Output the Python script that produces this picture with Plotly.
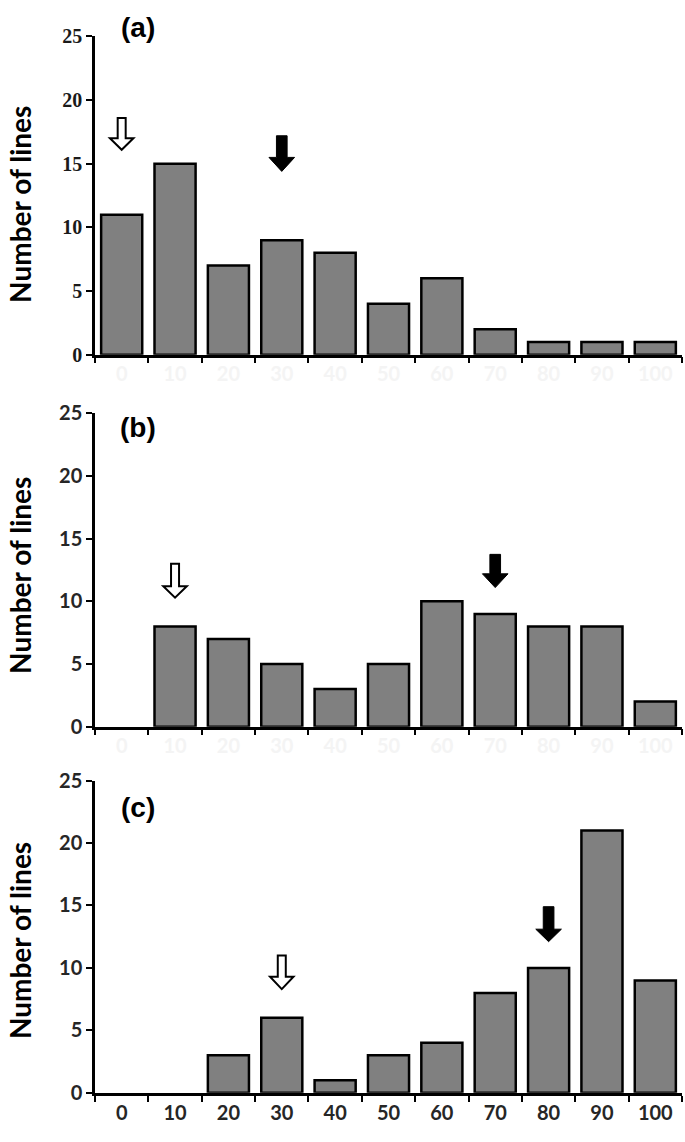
import plotly.graph_objects as go

categories = ["0", "10", "20", "30", "40", "50", "60", "70", "80", "90", "100"]
values_a = [11, 15, 7, 9, 8, 4, 6, 2, 1, 1, 1]
values_b = [0, 8, 7, 5, 3, 5, 10, 9, 8, 8, 2]
values_c = [0, 0, 3, 6, 1, 3, 4, 8, 10, 21, 9]
y_ticks = [0, 5, 10, 15, 20, 25]
panel_labels = ["(a)", "(b)", "(c)"]

# arrows: (category, top, head start, tip) in data units
open_arrows = [("0", 18.6, 17.0, 16.1), ("10", 13.0, 11.2, 10.3), ("30", 11.0, 9.3, 8.3)]
filled_arrows = [("30", 17.2, 15.5, 14.4), ("70", 13.75, 12.2, 11.1), ("80", 14.9, 13.1, 12.1)]

W, H = 685, 1142


def px_x(v):
    return v / W


def px_y(v):
    return 1 - v / H


x_left, x_right = 95, 682
panels_px = [(24, 349), (409, 729), (784, 1103)]  # top, bottom pixels of each plot

fig = go.Figure()
series = [values_a, values_b, values_c]
for i, vals in enumerate(series):
    suffix = "" if i == 0 else str(i + 1)
    fig.add_trace(go.Bar(
        x=categories, y=vals,
        xaxis="x" + suffix, yaxis="y" + suffix,
        marker=dict(color="#808080",
                    line=dict(color="black", width=[2.5 if v > 0 else 0 for v in vals])),
        showlegend=False, hoverinfo="skip",
    ))

layout = dict(
    width=W, height=H,
    margin=dict(l=0, r=0, t=0, b=0),
    paper_bgcolor="white", plot_bgcolor="white",
    bargap=0.23,
    shapes=[], annotations=[],
)

tick_fonts = [
    dict(family="Liberation Serif", size=20, color="#1a1a1a", weight="bold"),
    dict(family="Lato", size=20, color="#262626", weight="bold"),
    dict(family="Lato", size=20, color="#262626", weight="bold"),
]
xtick_colors = ["#f4f4f4", "#f4f4f4", "#262626"]

for i in range(3):
    suffix = "" if i == 0 else str(i + 1)
    top, bot = panels_px[i]
    layout["xaxis" + suffix] = dict(
        type="category", domain=[px_x(x_left), px_x(x_right)],
        anchor="y" + suffix, range=[-0.5, 10.5],
        showline=True, linecolor="black", linewidth=2.5,
        ticks="outside", tickson="boundaries", ticklen=6, tickwidth=2, tickcolor="black",
        tickfont=dict(family="Lato", size=20, color=xtick_colors[i], weight="bold"),
        showgrid=False, zeroline=False, fixedrange=True,
    )
    layout["yaxis" + suffix] = dict(
        domain=[px_y(bot), px_y(top)], anchor="x" + suffix, range=[0, 25],
        tickvals=y_ticks,
        showline=True, linecolor="black", linewidth=2.5,
        ticks="outside", ticklen=6, tickwidth=2, tickcolor="black",
        tickfont=tick_fonts[i],
        showgrid=False, zeroline=False, fixedrange=True,
    )
    # y title
    layout["annotations"].append(dict(
        text="Number of lines", textangle=-90,
        xref="paper", yref="paper",
        x=px_x(1), y=px_y([196, 575, 948][i]),
        showarrow=False,
        font=dict(family="Lato", size=28, color="black", weight="bold"),
        xanchor="left", yanchor="middle",
    ))
    # panel label
    layout["annotations"].append(dict(
        text=panel_labels[i], xref="paper", yref="paper",
        x=px_x(138), y=px_y([15, 423, 812][i]),
        showarrow=False,
        font=dict(family="Liberation Sans", size=28, color="black", weight="bold"),
        xanchor="center", yanchor="middle",
    ))


def arrow_path(c, top, hs, tip, sw, hw):
    return (f"M {c - sw},{top} L {c + sw},{top} L {c + sw},{hs} L {c + hw},{hs} "
            f"L {c},{tip} L {c - hw},{hs} L {c - sw},{hs} Z")


for i in range(3):
    suffix = "" if i == 0 else str(i + 1)
    cat, top, hs, tip = open_arrows[i]
    c = categories.index(cat)
    layout["shapes"].append(dict(
        type="path", xref="x" + suffix, yref="y" + suffix,
        path=arrow_path(c, top, hs, tip, 0.075, 0.22),
        fillcolor="white", line=dict(color="black", width=2),
    ))
    cat, top, hs, tip = filled_arrows[i]
    c = categories.index(cat)
    layout["shapes"].append(dict(
        type="path", xref="x" + suffix, yref="y" + suffix,
        path=arrow_path(c, top, hs, tip, 0.1, 0.24),
        fillcolor="black", line=dict(color="black", width=1),
    ))

fig.update_layout(**layout)
fig.write_html(
    "out.html",
    config={"displayModeBar": False},
    post_script="document.body.style.margin='0';document.body.style.overflow='hidden';",
)
